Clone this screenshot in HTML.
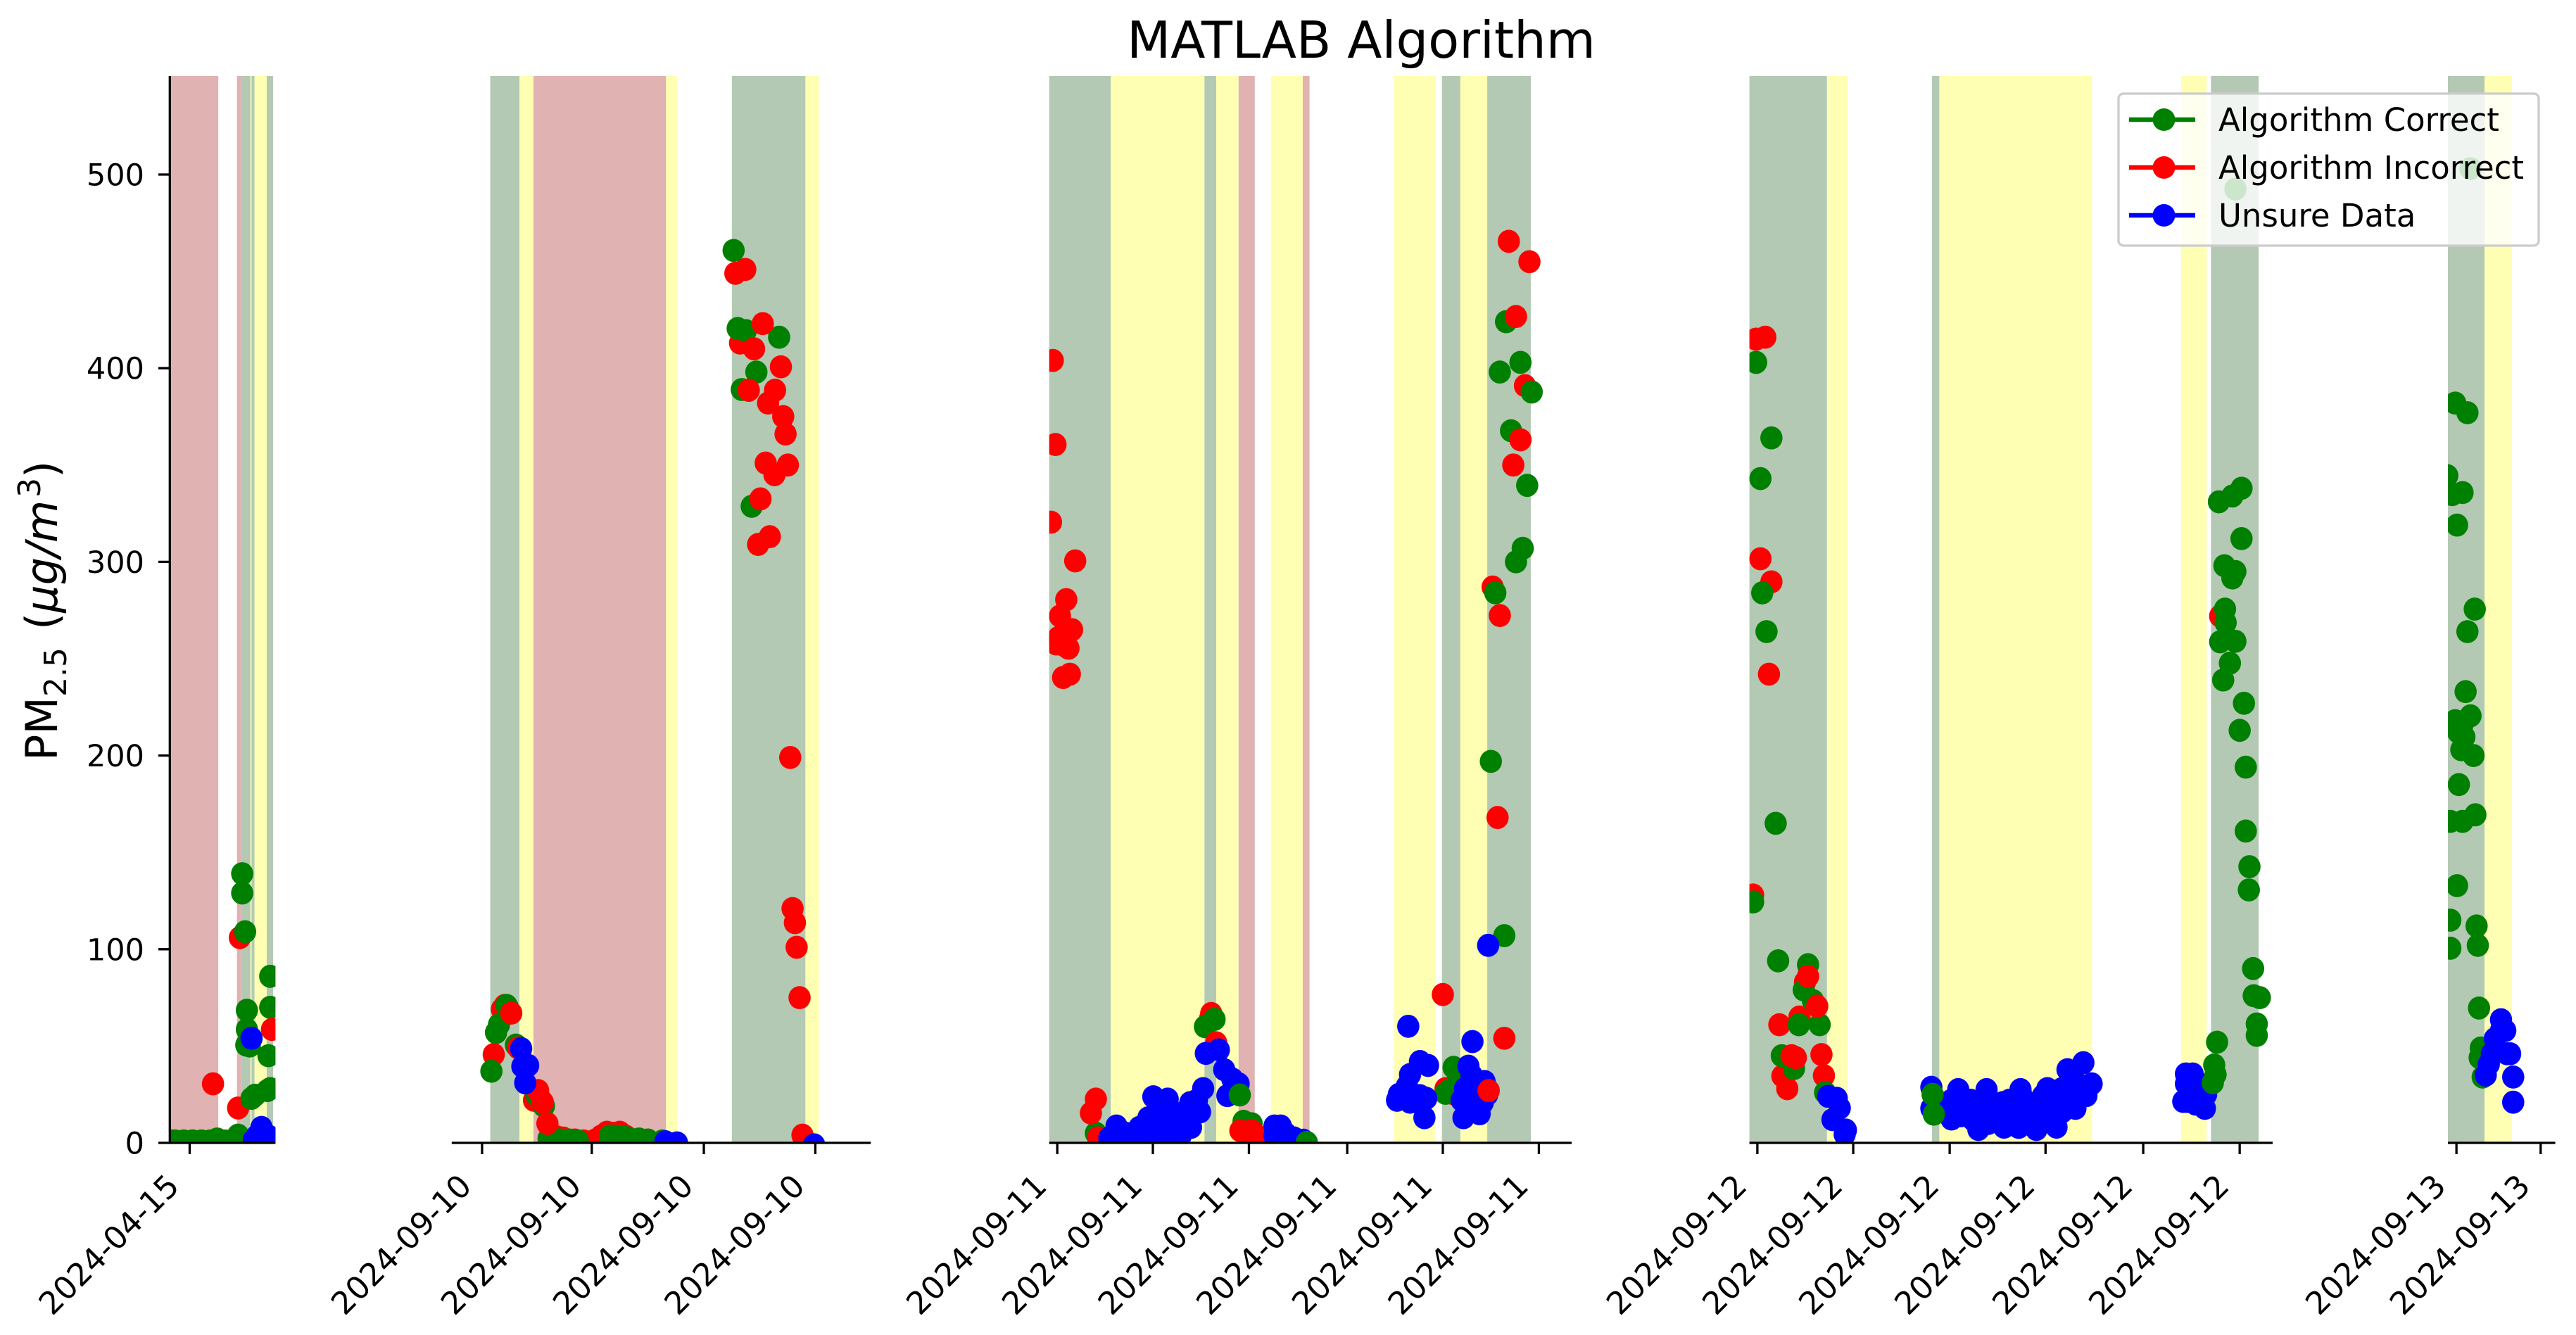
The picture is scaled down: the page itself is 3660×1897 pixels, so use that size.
<!DOCTYPE html>
<html lang="en">
<head>
<meta charset="utf-8">
<title>MATLAB Algorithm</title>
<style>
html,body{margin:0;padding:0;background:#fff;}
svg{display:block;font-family:"DejaVu Sans","Liberation Sans",sans-serif;}
</style>
</head>
<body>
<svg id="chart" xmlns="http://www.w3.org/2000/svg" width="3660" height="1897" viewBox="0 0 3660 1897">
  <rect x="0" y="0" width="3660" height="1897" fill="#ffffff"/>
  <defs id="clip-defs"></defs>
  <g id="bands"></g>
  <g id="marks"></g>
  <g id="axes"></g>
  <text x="1934" y="82" font-size="72" text-anchor="middle" fill="#000">MATLAB Algorithm</text>
  <text transform="translate(81,1075) rotate(-90)" font-size="62" fill="#000"><tspan x="-6" y="0">PM</tspan><tspan x="85" y="13" font-size="44">2.5</tspan><tspan x="180" y="0">(</tspan><tspan font-style="italic">μg/m</tspan><tspan x="368" y="-24" font-size="44">3</tspan><tspan x="396" y="0">)</tspan></text>
  <g>
    <rect x="3010" y="133" width="597" height="216" rx="7" fill="#ffffff" fill-opacity="0.8" stroke="#cccccc" stroke-width="3.3"/>
    <g>
      <line x1="3025" x2="3119" y1="170" y2="170" stroke="#008000" stroke-width="6.5"/>
      <circle cx="3074.5" cy="170" r="16" fill="#008000"/>
      <text x="3152" y="186" font-size="45" fill="#000">Algorithm Correct</text>
    </g>
    <g>
      <line x1="3025" x2="3119" y1="238" y2="238" stroke="#ff0000" stroke-width="6.5"/>
      <circle cx="3074.5" cy="238" r="16" fill="#ff0000"/>
      <text x="3152" y="254" font-size="45" fill="#000">Algorithm Incorrect</text>
    </g>
    <g>
      <line x1="3025" x2="3119" y1="306" y2="306" stroke="#0000ff" stroke-width="6.5"/>
      <circle cx="3074.5" cy="306" r="16" fill="#0000ff"/>
      <text x="3152" y="322" font-size="45" fill="#000">Unsure Data</text>
    </g>
  </g>
</svg>
<script>
// ---------- chart data (time in arbitrary per-panel units, values in ug/m3) ----------
const panelDomains = [[291,472],[774,1492],[299,1463],[214,1071],[1358,1534]];
const panelTicks = [[325],[826,1014,1206,1397],[317,530,744,963,1176,1390],[227,384,542,699,859,1017],[1372,1510]];
const panelTickLabels = [
  ["2024-04-15"],
  ["2024-09-10","2024-09-10","2024-09-10","2024-09-10"],
  ["2024-09-11","2024-09-11","2024-09-11","2024-09-11","2024-09-11","2024-09-11"],
  ["2024-09-12","2024-09-12","2024-09-12","2024-09-12","2024-09-12","2024-09-12"],
  ["2024-09-13","2024-09-13"]
];
const yTickValues = [0,100,200,300,400,500];
const correctBands = [
  [[414,429],[431,436],[457,468]],
  [[840,890],[1254,1380]],
  [[299,436],[645,671],[1174,1215],[1275,1372]],
  [[214,341],[513,525],[970,1048]],
  [[1358,1418]]
];
const incorrectBands = [
  [[291,374],[406,414]],
  [[914,1141]],
  [[721,757],[864,879]],
  [],
  []
];
const unsureBands = [
  [[429,431],[436,457]],
  [[890,914],[1141,1160],[1380,1403]],
  [[436,645],[671,721],[793,864],[1067,1160],[1215,1275]],
  [[341,375],[525,775],[921,963]],
  [[1418,1463]]
];
// Draw layers, each a list per panel of [time, value]
const incorrectUnder = [
  [[295,1],[330,1],[365,30.5],[408,18],[411,106]],
  [[846,45.6],[850,57],[860,69],[865,71],[1260,449],[1277,451],[1268,413],[915,22],[955,3],[965,2.5],[985,1.5],[1000,1],[1020,1.5],[1030,3.5],[1040,5.5],[1050,5],[1062,5.5],[1072,3.5]],
  [[657,63.8],[660,66.8],[1182,28],[1197,25.6],[1205,25],[1287,287],[1359,391],[1317,424]],
  [[225,415],[240,416],[220,128],[985,272],[246,242],[232,301.6],[250,289.7],[263,61],[268,34.5],[276,28],[296,65],[305,83],[336,34.7],[332,45.6]],
  []
];
const correctPoints = [
  [[300,1],[315,1],[330,1],[345,1],[360,1],[372,2],[385,1],[395,1],[408,4],[415,139],[415,129],[420,109],[423,68.5],[423,58.6],[422,50.5],[428,50],[431,23],[437,24.6],[458,27],[463,28],[463,86],[463,70],[460,45]],
  [[842,37],[850,57],[855,61],[868,71],[870,70],[884,50.5],[920,24.6],[925,23],[932,19],[940,2.2],[950,2],[962,1.5],[975,1.5],[990,1],[1045,3.5],[1055,3.5],[1070,3],[1080,2],[1095,2],[1110,1.5],[1135,1],[1257,460.8],[1264,420.5],[1278,419.4],[1335,416],[1296,398],[1271,389],[1288,328.7]],
  [[646,60],[667.4,63.8],[1200,39],[1189.4,26.9],[1182,25.6],[1210,33],[1317,424],[1349,403],[1303,398],[1374,387.7],[1328,367.7],[1364,339.5],[1354,307],[1339,300],[1293,284],[1283,197],[1313,107],[403,5],[732,11.1],[750,9.9]],
  [[225,403],[250,364],[232,343],[235,284],[242,264],[257,165],[220,124.4],[261,94],[310,92],[303,79],[318,73.5],[295,61],[329,61],[267,45],[287,38.4],[338,26],[1010,492.5],[1020,338],[1005,334],[983,331],[1020,312],[992,298],[1010,295],[1005,291.7],[993,275.6],[994,268.6],[985,258.7],[1010,259],[1001,247.7],[990,239],[1024,227],[1017,213],[1027,194],[1027,161],[1033,142.6],[1032,130.6],[1039,90],[1040,76],[1050,75],[1045,61.4],[1045,55.5]],
  [[1395,503],[1370,382],[1390,377],[1357,344.5],[1365,334.7],[1382,335.8],[1373,319],[1402,275.6],[1390,264],[1387,233],[1395,220.5],[1370,218],[1382,216],[1375,212],[1385,209.6],[1380,203],[1400,200],[1376,185],[1403,169.4],[1382,166],[1362,166],[1373,132.8],[1362,115],[1405,112],[1362,100.5],[1407,102],[1409,69.6],[1412,49],[1410,44],[1415,34]]
];
const incorrectPoints = [
  [[466,58.6]],
  [[888,49],[876,67],[922,27],[930,21],[938,10],[1307,423],[1292,410],[1338,400.7],[1283,388.6],[1328,388.6],[1316,382],[1342,375],[1346,366],[1312,351],[1350,350],[1327,345],[1303,332.5],[1319,313],[1299,309],[1354,199],[1358,121],[1362,113.7],[1365,101],[1370,75],[1375,4]],
  [[307,404],[313,360.6],[303,320.5],[357,300.5],[337,280.5],[323,272],[350,265],[320,261],[315,257.6],[335,256.5],[342,255.4],[330,240.3],[345,242],[403,22.6],[392,15.4],[408,2.6],[671,51.7],[725,6.3],[750,6.3],[743,5],[760,4],[1323,465.5],[1369,455],[1339,426.7],[1349,363],[1333,350],[1303,272.3],[1298,168],[1176,76.6],[1313,54]],
  [[310,86],[325,70.6],[283,45],[290,44]],
  []
];
const correctMid = [[],[],[],[[514,25],[516,14.8]],[]];
const unsurePoints = [
  [[431,54],[448,8],[440,3.5],[450,3],[460,3.5],[435,1.5],[465,2]],
  [[893,48.7],[905,40],[895,39.5],[900,31],[1140,0.6],[1160,0],[1395,-1]],
  [[449,8.7],[433,2.6],[491,2.6],[500,8],[510,6],[520,13],[531,23.8],[545,14],[563,22.6],[556,16],[520,5],[555,5],[570,5],[585,12],[592,3.8],[600,16],[615,8],[534,6.3],[484,3.8],[613.4,20.8],[642,28],[635,16],[606,13.5],[577.4,11],[628,22],[570,16],[469,5],[599,7.5],[648,46.2],[677,48],[689,37.8],[721,30.5],[707,33],[696,24.4],[801,8.7],[815,8.7],[801,3.8],[825,5],[844,2.6],[865,1.4],
   [1099,60.2],[1125,42],[1143,40],[1103,35.3],[1078,25],[1090,24],[1110,25],[1125,24.4],[1139,23],[1135,13],[1074,22],[1103,21],[1096,29.3],
   [1277,102],[1242,52.3],[1233,39.6],[1222,13],[1247,25.6],[1269,31.7],[1265,20.8],[1233,23],[1218,22],[1247,33],[1225.4,28],[1247,17],[1255,25],[1240,35],[1258,15],[1275,25],[1278,27]],
  [[343,24],[357,23],[362,18],[350,12],[372,6.6],[370,4.4],[512,28.7],[512,17.8],[520,22],[534,19.6],[545,22],[556,27.5],[545,12.3],[560,14],[576,22],[580,12],[585,20],[602.4,27.5],[589,6.9],[600,20],[605,10],[611,18.4],[620,13],[631,8.1],[629,20.8],[640,10],[640,22],[658,27.5],[655,8],[655.4,17.2],[665,22],[675,20],[684,6.9],[690,10],[705,12],[715,14],[717,8.1],[702,28],[695,16],[726,16],[735,37.8],[735,24],[745,22],[755,24],[761,41.4],[774.5,30.5],[748,17.8],[726,28],[766,24.4],[748,31.7],[536,17.2],[567,16],[594,16],[669,13.5],[708,22],[646.5,16],[682,16],[695,24.4],[931,29.9],[931,21.4],[935,22],[945,20],[950,25],[955,30],[962,25],[929,35.6],[940,35.6],[929,30.5],[924.6,21.4],[960,17.8],[942,28]],
  [[1445,63.6],[1452,58],[1435,53.8],[1455,46],[1430,46],[1420,35],[1440,47],[1465,34],[1465,21],[1425,40.6],[1460,46],[1445,58]]
];
const correctTop = [[],[],[[723.6,24.7],[873,0.2]],[[980,52],[977.5,35.3],[975.3,40.2],[973,31]],[]];
const incorrectTop = [[],[],[[1278,27]],[],[]];

// ---------- layout ----------
const panelRanges = [[241.3,391.4],[641.8,1237.2],[1490.7,2233],[2485.6,3229],[3478,3630.6]];
const plotTop = 108, plotBottom = 1624, pxPerUnit = 2.752;
const colors = {correct:'#008000', incorrect:'#ff0000', unsure:'#0000ff'};
const NS = 'http://www.w3.org/2000/svg';
function xScale(p, t) {
  const d = panelDomains[p], r = panelRanges[p];
  return r[0] + (t - d[0]) * (r[1] - r[0]) / (d[1] - d[0]);
}
function yScale(v) { return plotBottom - v * pxPerUnit; }
function make(tag, attrs, parent) {
  const el = document.createElementNS(NS, tag);
  for (const k in attrs) el.setAttribute(k, attrs[k]);
  parent.appendChild(el);
  return el;
}
const defs = document.getElementById('clip-defs');
const bandsG = document.getElementById('bands');
const marksG = document.getElementById('marks');
const axesG = document.getElementById('axes');

panelRanges.forEach(function (r, p) {
  const cp = make('clipPath', {id: 'clip' + p}, defs);
  make('rect', {x: r[0], y: plotTop, width: r[1] - r[0], height: plotBottom - plotTop}, cp);
});

function drawBands(list, fill, name) {
  list.forEach(function (bands, p) {
    bands.forEach(function (b) {
      const x0 = xScale(p, b[0]), x1 = xScale(p, b[1]);
      const el = make('rect', {x: x0, y: plotTop, width: x1 - x0, height: plotBottom - plotTop, fill: fill}, bandsG);
      
      
    });
  });
}
drawBands(unsureBands, '#feffb2', 'unsure-band');
drawBands(correctBands, '#b3c9b3', 'correct-band');
drawBands(incorrectBands, '#e0b2b2', 'incorrect-band');

function drawPoints(list, color, name) {
  list.forEach(function (pts, p) {
    const g = make('g', {'clip-path': 'url(#clip' + p + ')'}, marksG);
    pts.forEach(function (pt) {
      const c = make('ellipse', {cx: xScale(p, pt[0]), cy: yScale(pt[1]), rx: 15.8, ry: 16.4, fill: color}, g);
      
      
    });
  });
}
drawPoints(incorrectUnder, colors.incorrect, 'incorrect-point');
drawPoints(correctPoints, colors.correct, 'correct-point');
drawPoints(incorrectPoints, colors.incorrect, 'incorrect-point');
drawPoints(unsurePoints, colors.unsure, 'unsure-point');
drawPoints(correctMid, colors.correct, 'correct-point');
drawPoints(correctTop, colors.correct, 'correct-point');
drawPoints(incorrectTop, colors.incorrect, 'incorrect-point');

// y axis
const ySpine = make('line', {x1: 241.3, x2: 241.3, y1: plotTop, y2: plotBottom + 1.6, stroke: '#000', 'stroke-width': 3.3}, axesG);


yTickValues.forEach(function (v) {
  const y = yScale(v);
  const tick = make('line', {x1: 225, x2: 241.3, y1: y, y2: y, stroke: '#000', 'stroke-width': 3.3}, axesG);
  
  
  const label = make('text', {x: 205, y: y + 15.5, 'font-size': 43, 'text-anchor': 'end', fill: '#000'}, axesG);
  
  
  label.textContent = String(v);
});
// x axes
panelRanges.forEach(function (r, p) {
  const spine = make('line', {x1: r[0], x2: r[1], y1: plotBottom, y2: plotBottom, stroke: '#000', 'stroke-width': 3.3}, axesG);
  
  
  panelTicks[p].forEach(function (t, i) {
    const x = xScale(p, t);
    const tick = make('line', {x1: x, x2: x, y1: plotBottom, y2: plotBottom + 16, stroke: '#000', 'stroke-width': 3.3}, axesG);
    
    
    const label = make('text', {transform: 'translate(' + (x - 12.5) + ',1688) rotate(-45)', 'font-size': 44.5, 'text-anchor': 'end', fill: '#000'}, axesG);
    
    
    label.textContent = panelTickLabels[p][i];
  });
});
</script>
</body>
</html>
